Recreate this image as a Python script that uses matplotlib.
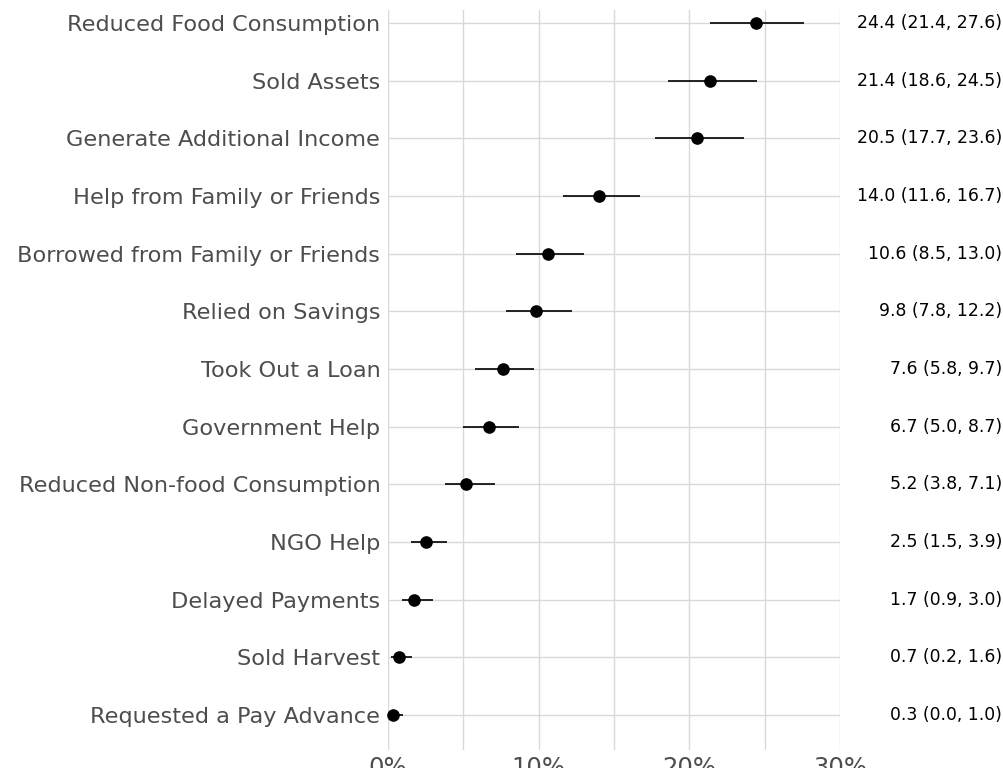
import matplotlib
matplotlib.use("Agg")
import matplotlib.pyplot as plt
import matplotlib.transforms as mtransforms
from matplotlib.ticker import FuncFormatter

categories = [
    "Reduced Food Consumption", "Sold Assets", "Generate Additional Income",
    "Help from Family or Friends", "Borrowed from Family or Friends",
    "Relied on Savings", "Took Out a Loan", "Government Help",
    "Reduced Non-food Consumption", "NGO Help", "Delayed Payments",
    "Sold Harvest", "Requested a Pay Advance",
]
estimate = [24.4, 21.4, 20.5, 14.0, 10.6, 9.8, 7.6, 6.7, 5.2, 2.5, 1.7, 0.7, 0.3]
lower = [21.4, 18.6, 17.7, 11.6, 8.5, 7.8, 5.8, 5.0, 3.8, 1.5, 0.9, 0.2, 0.0]
upper = [27.6, 24.5, 23.6, 16.7, 13.0, 12.2, 9.7, 8.7, 7.1, 3.9, 3.0, 1.6, 1.0]
x_ticks = [0, 10, 20, 30]

plt.rcParams['font.family'] = ['DejaVu Sans']
fig = plt.figure(figsize=(10.04, 7.68), dpi=100)
ax = fig.add_axes([388/1004, 18/768, (840-388)/1004, (750-10)/768])

ypos = list(range(len(categories)))
grid_c = "#d9d9d9"
for y in ypos:
    ax.axhline(y, color=grid_c, lw=1.0, zorder=0)
for x in range(0, 31, 5):
    ax.axvline(x, color=grid_c, lw=1.0, zorder=0)

ax.hlines(ypos, lower, upper, color="black", lw=1.2, zorder=2)
ax.scatter(estimate, ypos, s=65, color="black", zorder=3, clip_on=False)

ax.set_xlim(0, 30)
ax.set_ylim(12 + 35/57.67, -13/57.67)
ax.set_yticks(ypos)
ax.set_yticklabels(categories, fontsize=16.1, color="#4d4d4d")
ax.set_xticks(x_ticks)
ax.xaxis.set_major_formatter(FuncFormatter(lambda v, p: f"{int(v)}%"))
ax.tick_params(axis="x", labelsize=17.5, colors="#4d4d4d", length=0, pad=4)
ax.tick_params(axis="y", length=0, pad=5.5)
for s in ax.spines.values():
    s.set_visible(False)

trans = mtransforms.blended_transform_factory(fig.transFigure, ax.transData)
for y, e, l, u in zip(ypos, estimate, lower, upper):
    ax.text(1002/1004, y, f"{e:.1f} ({l:.1f}, {u:.1f})", transform=trans,
            ha="right", va="center", fontsize=12.4, color="black", clip_on=False)

fig.savefig("out.png", dpi=100)
